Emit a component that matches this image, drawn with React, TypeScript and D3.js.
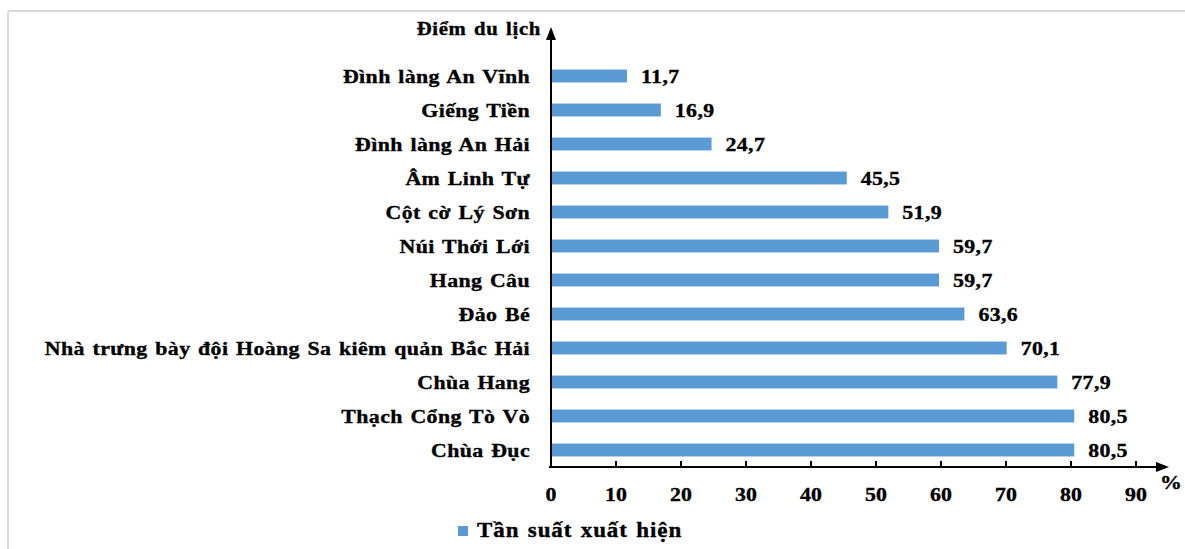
import React from "react";
import * as d3 from "d3";

const categories = [
  "Đình làng An Vĩnh",
  "Giếng Tiền",
  "Đình làng An Hải",
  "Âm Linh Tự",
  "Cột cờ Lý Sơn",
  "Núi Thới Lới",
  "Hang Câu",
  "Đảo Bé",
  "Nhà trưng bày đội Hoàng Sa kiêm quản Bắc Hải",
  "Chùa Hang",
  "Thạch Cổng Tò Vò",
  "Chùa Đục",
];
const values = [11.7, 16.9, 24.7, 45.5, 51.9, 59.7, 59.7, 63.6, 70.1, 77.9, 80.5, 80.5];
const xTicks = [0, 10, 20, 30, 40, 50, 60, 70, 80, 90];
const yTitle = "Điểm du lịch";
const xUnit = "%";
const seriesName = "Tần suất xuất hiện";

const W = 1185;
const H = 549;
const FONT = "'Liberation Serif', 'Times New Roman', serif";
const BAR = "#5B9BD5";
const SX = 1.15;

type TProps = {
  x: number;
  y: number;
  size: number;
  anchor?: "start" | "middle" | "end";
  ls?: number;
  children: React.ReactNode;
};

function T({ x, y, size, anchor = "start", ls = 0.8, children }: TProps) {
  return (
    <g transform={`translate(${x},${y}) scale(${SX},1)`}>
      <text
        x={0}
        y={0}
        dy="0.35em"
        textAnchor={anchor}
        fontFamily={FONT}
        fontWeight="bold"
        fontSize={size}
        letterSpacing={ls}
        wordSpacing={1.5}
        fill="#000"
        stroke="#000"
        strokeWidth={0.35}
      >
        {children}
      </text>
    </g>
  );
}

export default function App() {
  const x0 = 551;
  const axisY = 467;
  const x = d3.scaleLinear().domain([0, 80]).range([x0, 1071]);
  const y = d3.scaleBand<string>().domain(categories).range([59, axisY]).paddingInner(0.62).paddingOuter(0.31);
  const bw = y.bandwidth();
  const fmt = (v: number) => v.toFixed(1).replace(".", ",");

  return (
    <svg width={W} height={H} style={{ position: "absolute", left: 0, top: 0, background: "#fff" }}>
      {/* frame */}
      <line x1={8} y1={11} x2={1185} y2={11} stroke="#d9d9d9" strokeWidth={2} />
      <line x1={8} y1={11} x2={8} y2={549} stroke="#d9d9d9" strokeWidth={2} />

      {/* bars */}
      {categories.map((c, i) => (
        <g key={c}>
          <rect x={x(0)} y={y(c)!} width={x(values[i]) - x(0)} height={bw} fill={BAR} />
          <T x={x(values[i]) + 14} y={y(c)! + bw / 2} size={19} ls={0.3}>
            {fmt(values[i])}
          </T>
          <T x={530} y={y(c)! + bw / 2} size={19} anchor="end" ls={0.35}>
            {c}
          </T>
        </g>
      ))}

      {/* y axis */}
      <line x1={x0} y1={axisY} x2={x0} y2={38} stroke="#000" strokeWidth={2} />
      <path d={`M${x0 - 5},${40} L${x0},${27} L${x0 + 5},${40} Z`} fill="#000" />
      <T x={541} y={29} size={18} anchor="end" ls={0.6}>
        {yTitle}
      </T>

      {/* x axis */}
      <line x1={x0 - 2} y1={axisY} x2={1158} y2={axisY} stroke="#000" strokeWidth={2} />
      <path d={`M${1156},${axisY - 5} L${1169},${axisY} L${1156},${axisY + 5} Z`} fill="#000" />
      {xTicks.map((t) => (
        <g key={t}>
          <line x1={x(t)} x2={x(t)} y1={axisY} y2={axisY - 6} stroke="#000" strokeWidth={2} />
          <T x={x(t)} y={494} size={19} anchor="middle" ls={0}>
            {t}
          </T>
        </g>
      ))}
      <T x={1171} y={482} size={19} anchor="middle" ls={0}>
        {xUnit}
      </T>

      {/* legend */}
      <rect x={458} y={526} width={10} height={10} fill={BAR} />
      <T x={477} y={530} size={20} ls={0.8}>
        {seriesName}
      </T>
    </svg>
  );
}
